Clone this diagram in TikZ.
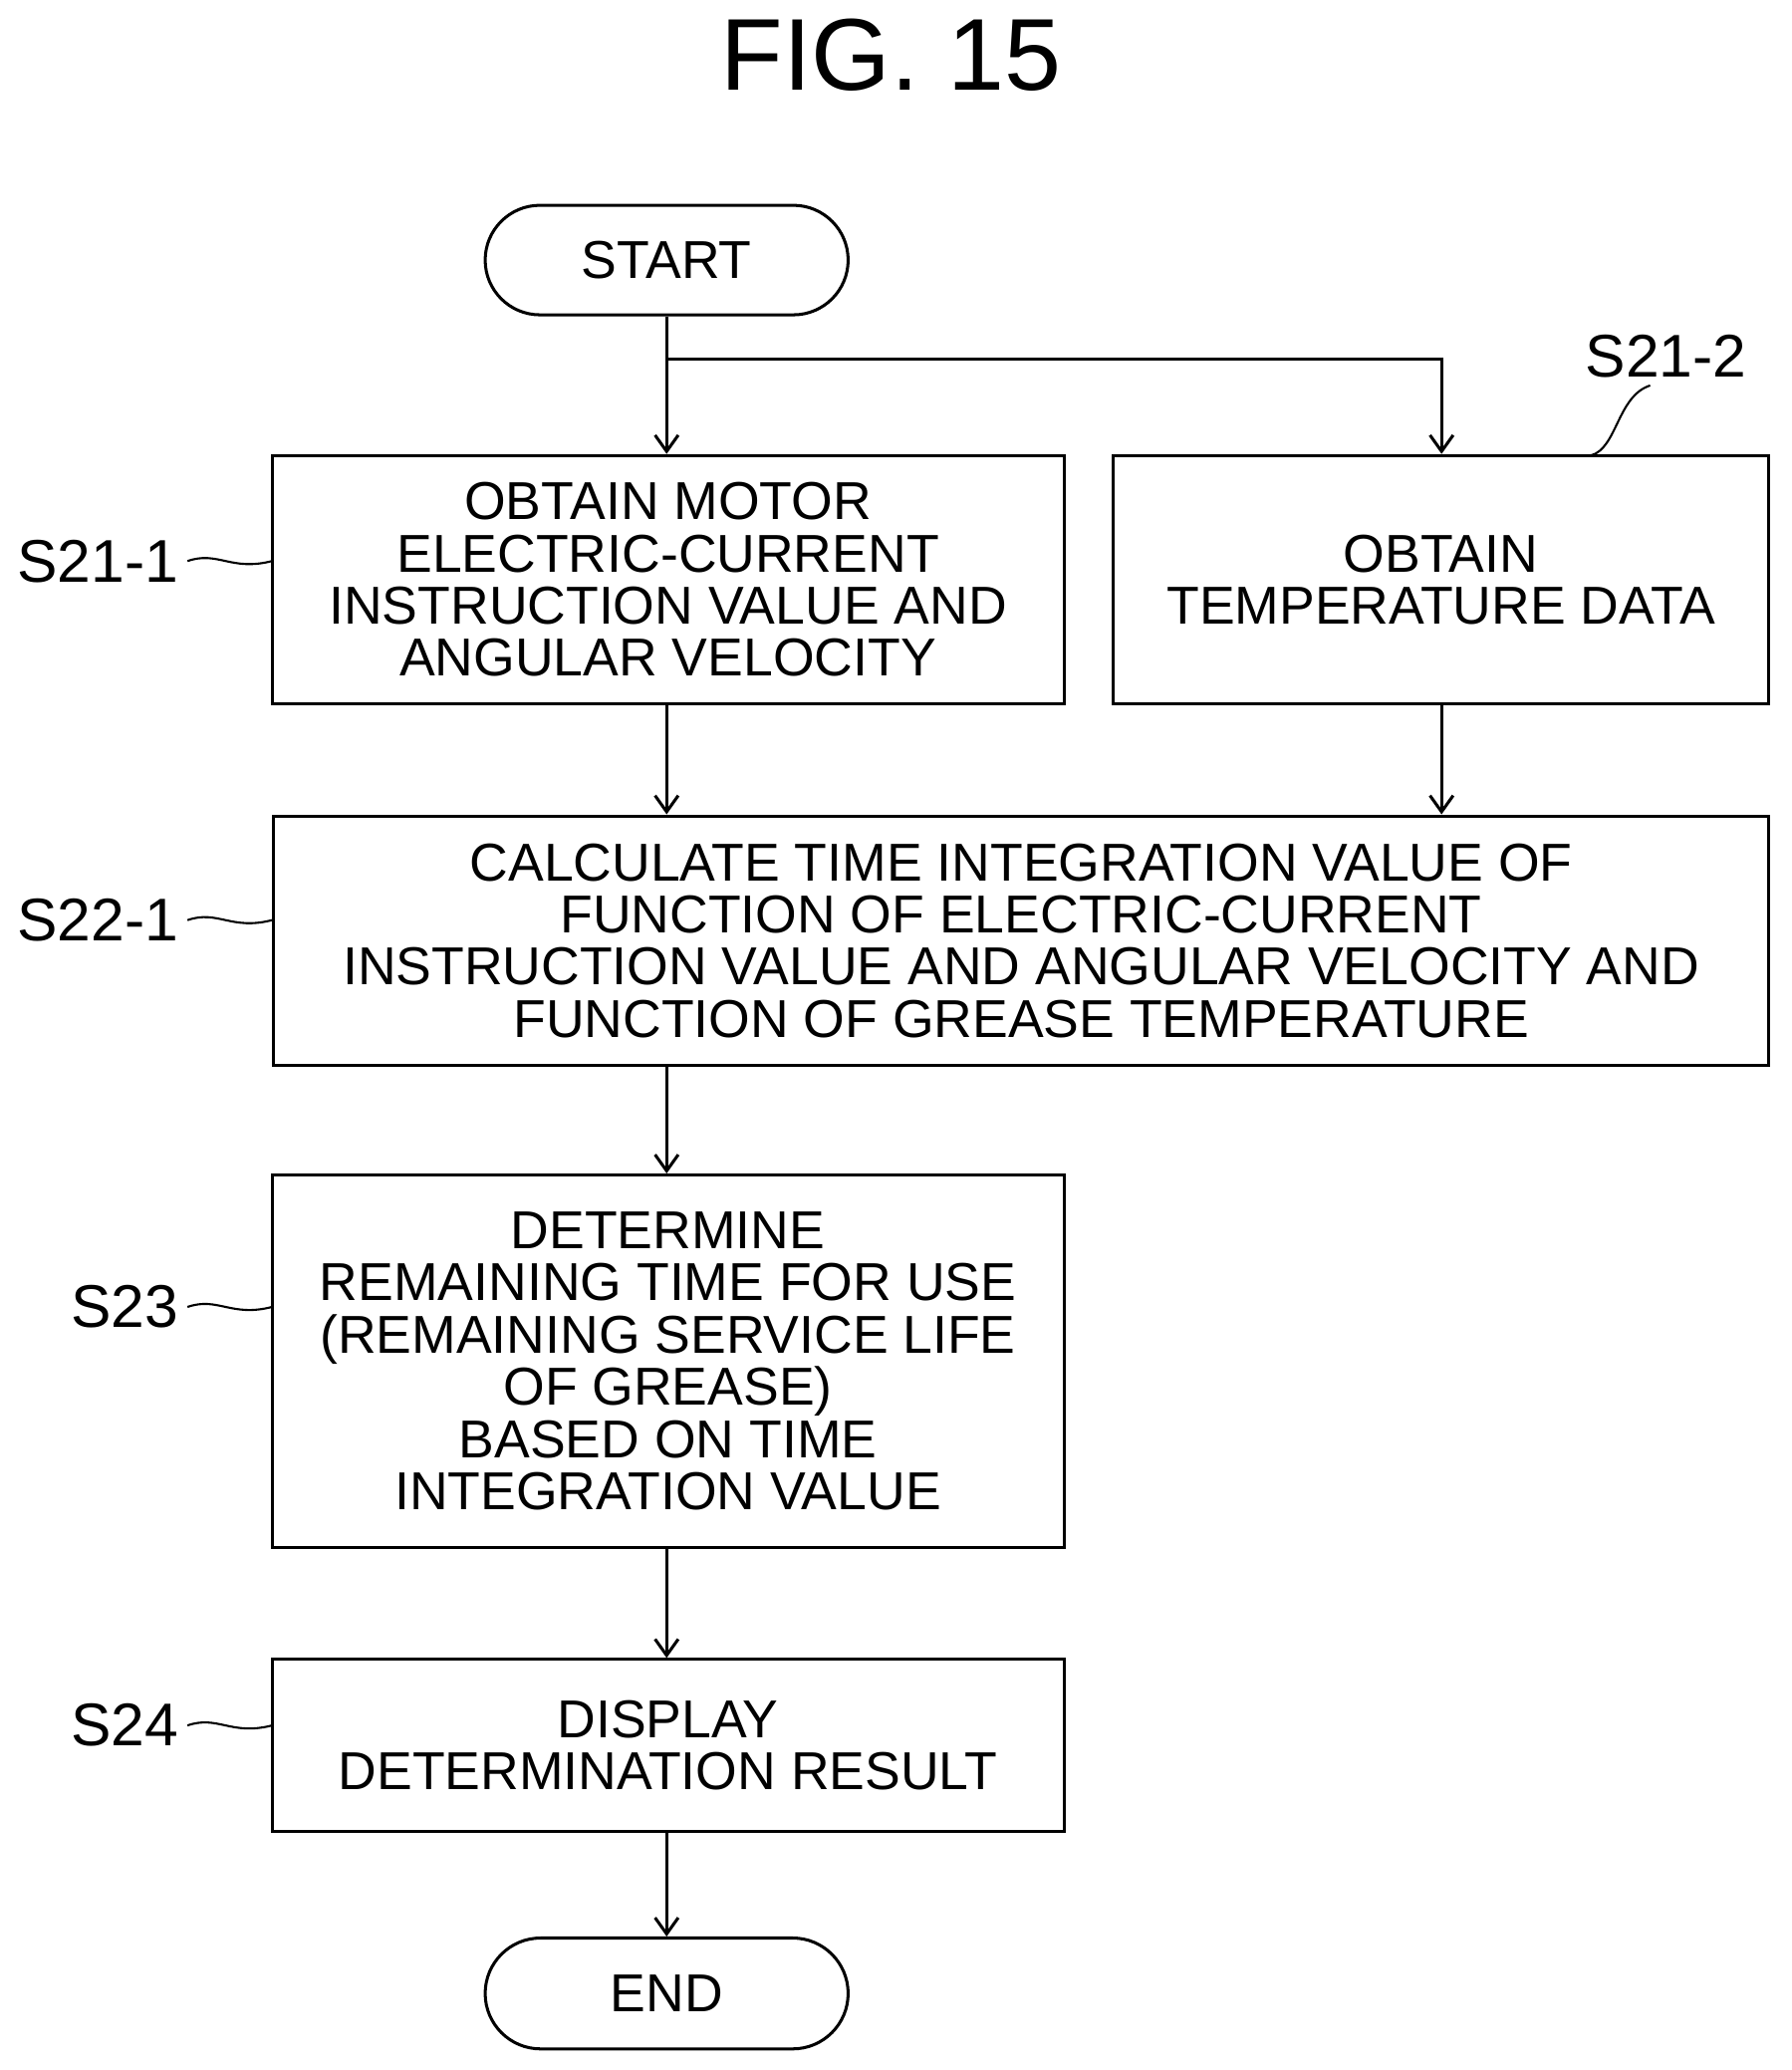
\documentclass[tikz,border=0pt]{standalone}
\usepackage{fontspec}
\setmainfont{Liberation Sans}
\usetikzlibrary{arrows.meta}
\begin{document}
\begin{tikzpicture}[x=0.02cm,y=-0.02cm,
  line width=1.3pt,
  box/.style={draw,inner sep=0pt,align=center,font=\fontsize{23}{22.5}\selectfont},
  term/.style={draw,rounded corners=40\pgflinewidth,minimum width=5.5cm,minimum height=1.66cm,font=\fontsize{23}{22.5}\selectfont},
  lab/.style={font=\fontsize{26}{26}\selectfont},
  arr/.style={-{Straight Barb[length=7pt,width=10pt]}},
  sq/.style={line width=0.9pt}]
\useasboundingbox (0,0) rectangle (1357,1568);
\node[font=\fontsize{44}{44}\selectfont] (title) at (675,42) {FIG. 15};
\node[term,rounded corners=0.83cm] (start) at (505,197) {START};
\node[box,minimum width=12cm,minimum height=3.76cm] (b1) at (506,439) {OBTAIN MOTOR\\ELECTRIC-CURRENT\\INSTRUCTION VALUE AND\\ANGULAR VELOCITY};
\node[box,minimum width=9.94cm,minimum height=3.76cm] (b2) at (1091.5,439) {OBTAIN\\TEMPERATURE DATA};
\node[box,minimum width=22.66cm,minimum height=3.78cm] (b3) at (773.5,712.5) {CALCULATE TIME INTEGRATION VALUE OF\\FUNCTION OF ELECTRIC-CURRENT\\INSTRUCTION VALUE AND ANGULAR VELOCITY AND\\FUNCTION OF GREASE TEMPERATURE};
\node[box,minimum width=12cm,minimum height=5.64cm] (b4) at (506,1031) {DETERMINE\\REMAINING TIME FOR USE\\(REMAINING SERVICE LIFE\\OF GREASE)\\BASED ON TIME\\INTEGRATION VALUE};
\node[box,minimum width=12cm,minimum height=2.6cm] (b5) at (506,1322) {DISPLAY\\DETERMINATION RESULT};
\node[term,rounded corners=0.84cm,minimum height=1.68cm] (end) at (505,1510) {END};
\coordinate (br) at (505,272);
\coordinate (brr) at (1092,272);
\draw (start.south) -- (br);
\draw[arr] (br) -- (b1.north-|br);
\draw[arr] (br) -- (brr) -- (b2.north-|brr);
\draw[arr] (b1.south-|br) -- (b3.north-|br);
\draw[arr] (b2.south-|brr) -- (b3.north-|brr);
\draw[arr] (b3.south-|br) -- (b4.north-|br);
\draw[arr] (b4.south-|br) -- (b5.north-|br);
\draw[arr] (b5.south-|br) -- (end.north);
\node[lab,anchor=east] (l1) at (142,425) {S21-1};
\node[lab] (l2) at (1262,270) {S21-2};
\node[lab,anchor=east] (l3) at (142,697) {S22-1};
\node[lab,anchor=east] (l4) at (142,990) {S23};
\node[lab,anchor=east] (l5) at (142,1307) {S24};
\foreach \l/\y in {l1/425,l3/697,l4/990,l5/1307}
  \draw[sq] (\l.east) .. controls (165,\y-8) and (175,\y+8) .. (206,\y);
\draw[sq] (1205,345) .. controls (1225,340) and (1225,300) .. (1250,292);
\end{tikzpicture}
\end{document}
